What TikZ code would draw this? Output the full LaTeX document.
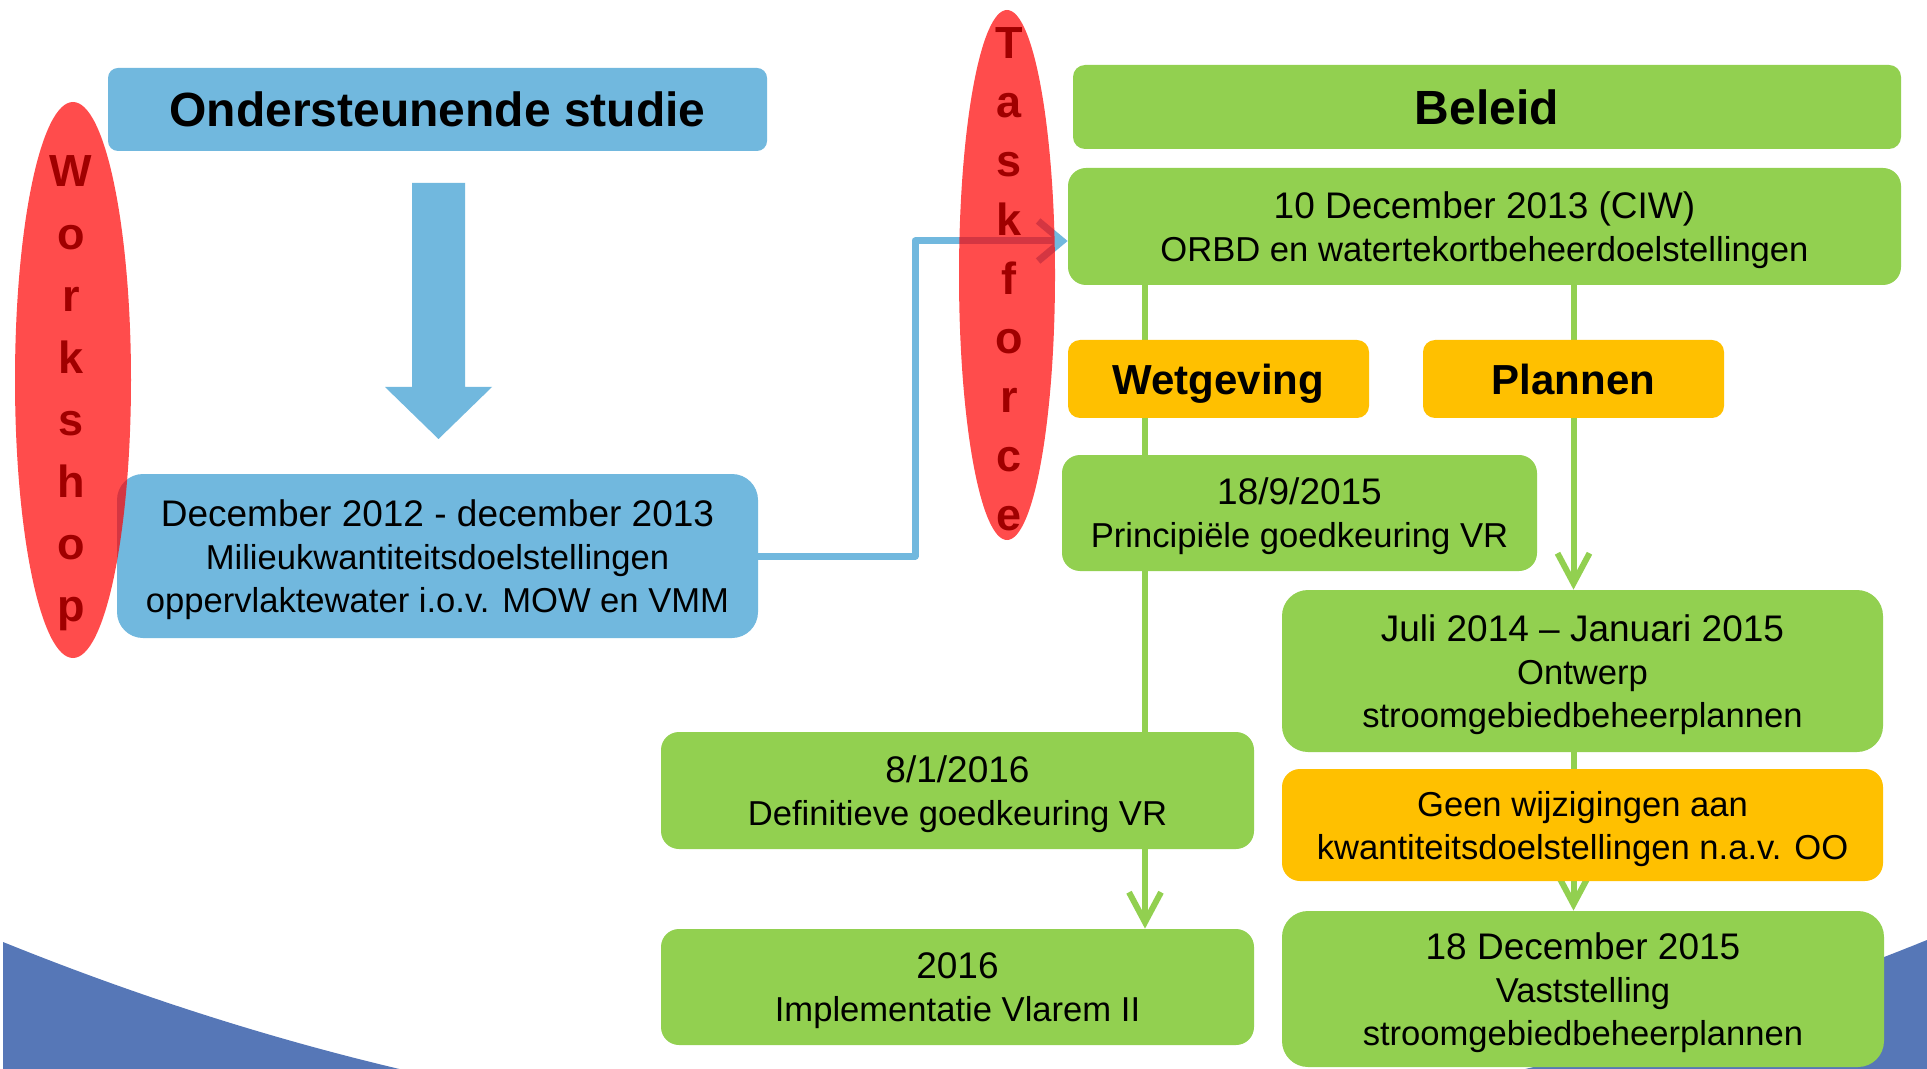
\documentclass[tikz,border=0pt]{standalone}
\usepackage{fontspec}
\setmainfont{Liberation Sans}
\usetikzlibrary{arrows.meta,shapes.geometric}
\definecolor{cblue}{HTML}{71B8DE}
\definecolor{cgreen}{HTML}{92D050}
\definecolor{corange}{HTML}{FFC000}
\definecolor{cswoosh}{HTML}{5677B7}
\definecolor{cletter}{HTML}{A00000}
\newcommand\szbig{\fontsize{18.5}{21.5}\selectfont}
\newcommand\szbody{\fontsize{17.3}{21.5}\selectfont}
\pgfdeclarelayer{bg}\pgfdeclarelayer{fg}\pgfsetlayers{bg,main,fg}
\tikzset{
  box/.style={inner sep=0pt, align=center, text=black, font=\szbody, text depth=0pt},
  bbox/.style={box, fill=cblue},
  gbox/.style={box, fill=cgreen},
  obox/.style={box, fill=corange},
  head/.style={font=\bfseries\fontsize{24}{28}\selectfont},
  sub/.style={font=\bfseries\fontsize{21}{25}\selectfont},
  gline/.style={draw=cgreen, line width=3pt},
  garrow/.style={gline, -{Straight Barb[length=15pt,width=16pt]}},
  barrow/.style={draw=cblue, line width=3.5pt, line join=round, -{Straight Barb[length=12pt,width=20pt]}},
  ell/.style={ellipse, fill=red, fill opacity=0.7, inner sep=0pt, draw=none},
  wl/.style={text=cletter, font=\bfseries\fontsize{22.5}{26}\selectfont, inner sep=0pt}
}
\begin{document}
\begin{tikzpicture}[x=0.5pt, y=-0.5pt]
\useasboundingbox (0,0) rectangle (1927,1069);

% boxes
\node[bbox, minimum width=329.5pt, minimum height=41.5pt, rounded corners=5pt, head] (onder) at (437.5,109.5) {Ondersteunende studie};
\node[bbox, minimum width=320.5pt, minimum height=82pt, rounded corners=13pt] (dec12) at (437.5,556) {{\szbig December 2012 - december 2013}\\Milieukwantiteitsdoelstellingen\\oppervlaktewater i.o.v. MOW en VMM};
\node[gbox, minimum width=414pt, minimum height=42pt, rounded corners=6pt, head] (beleid) at (1487,107) {Beleid};
\node[gbox, minimum width=416.5pt, minimum height=58.5pt, rounded corners=9pt] (dec10) at (1484.5,226.5) {{\szbig 10 December 2013 (CIW)}\\ORBD en watertekortbeheerdoelstellingen};
\node[obox, minimum width=150.5pt, minimum height=39pt, rounded corners=6pt, sub] (wet) at (1218.5,379) {Wetgeving};
\node[obox, minimum width=150.5pt, minimum height=39pt, rounded corners=6pt, sub] (plan) at (1573.5,379) {Plannen};
\node[gbox, minimum width=237.5pt, minimum height=58pt, rounded corners=9pt] (princ) at (1299.5,513) {{\szbig 18/9/2015}\\Principiële goedkeuring VR};
\node[gbox, minimum width=300.5pt, minimum height=81pt, rounded corners=13pt] (juli) at (1582.5,671) {{\szbig Juli 2014 – Januari 2015}\\Ontwerp\\stroomgebiedbeheerplannen};
\node[gbox, minimum width=296.5pt, minimum height=58.5pt, rounded corners=9pt] (defin) at (957.5,790.5) {{\szbig 8/1/2016}\\Definitieve goedkeuring VR};
\node[obox, minimum width=300.5pt, minimum height=56pt, rounded corners=9pt] (geen) at (1582.5,825) {Geen wijzigingen aan\\kwantiteitsdoelstellingen n.a.v. OO};
\node[gbox, minimum width=296.5pt, minimum height=58pt, rounded corners=9pt] (impl) at (957.5,987) {{\szbig 2016}\\Implementatie Vlarem II};
\node[gbox, minimum width=301pt, minimum height=78pt, rounded corners=13pt] (vast) at (1583,989) {{\szbig 18 December 2015}\\Vaststelling\\stroomgebiedbeheerplannen};

% big down arrow
\fill[cblue] (412,183) -- (465,183) -- (465,387) -- (492,387) -- (438.5,439) -- (385,387) -- (412,387) -- cycle;

\begin{pgfonlayer}{bg}
  \fill[white] (0,0) rectangle (1927,1069);
  \begin{scope}
    \clip (0,0) rectangle (1927,1069);
    \fill[cswoosh] (3,942) .. controls (644,1201) and (1286,1200) .. (1927,940) -- (1927,1075) -- (3,1075) -- cycle;
  \end{scope}
  \coordinate (wx) at (1145,0);
  \draw[garrow] (dec10.south -| wx) -- (impl.north -| wx);
  \draw[garrow] (dec10.south -| plan) -- (juli.north -| plan);
  \draw[garrow] (juli.south -| plan) -- (vast.north -| plan);
  \coordinate (bend) at (915,241);
  \draw[barrow] (dec12.east) -| (bend) -- (dec10.west |- bend);
\end{pgfonlayer}

\begin{pgfonlayer}{fg}
  \node[ell, minimum width=58pt, minimum height=278pt] (wsell) at (73,380) {};
  \node[ell, minimum width=48pt, minimum height=265pt] (tfell) at (1007,275) {};
  \foreach \l [count=\i] in {W,o,r,k,s,h,o,p}
    \node[wl, anchor=base] (ws\i) at (71,{187+62.1*(\i-1)}) {\l};
  \foreach \l [count=\i] in {T,a,s,k,f,o,r,c,e}
    \node[wl, anchor=base] (tf\i) at (1009,{59+58.9*(\i-1)}) {\l};
\end{pgfonlayer}
\end{tikzpicture}
\end{document}
